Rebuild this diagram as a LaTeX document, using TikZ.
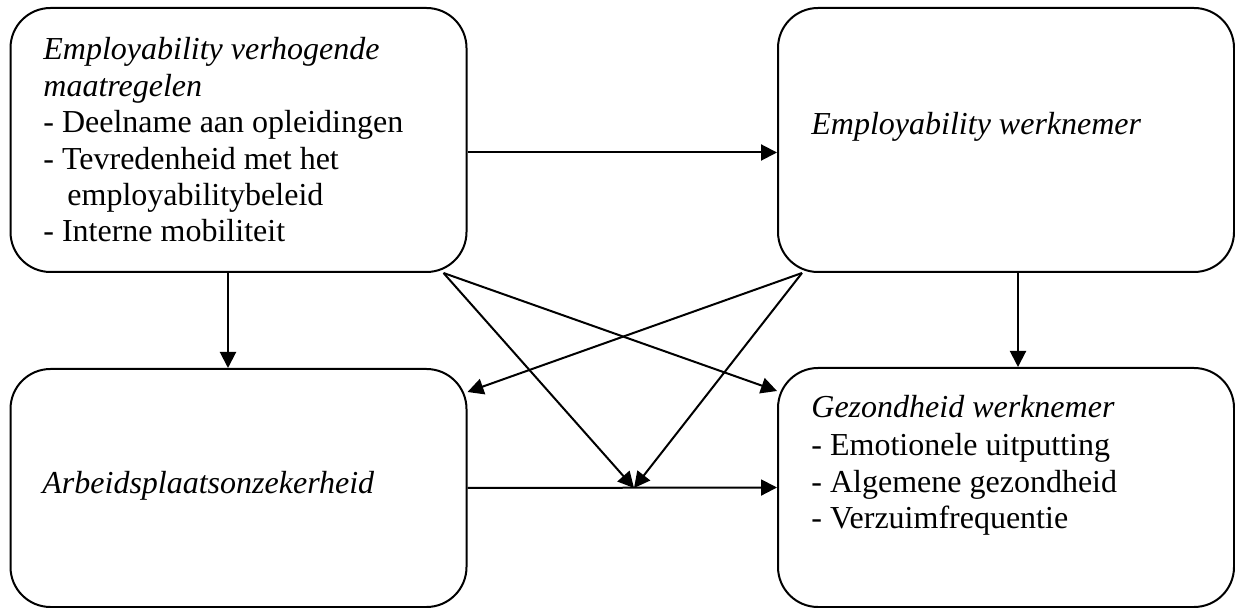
\documentclass[tikz,border=0pt]{standalone}
\usepackage{fontspec}
\setmainfont{Liberation Serif}
\usetikzlibrary{arrows.meta}
\begin{document}
\begin{tikzpicture}[x=0.5pt,y=-0.5pt,
  box/.style={draw,line width=1pt,rounded corners=20pt,minimum width=228pt,inner sep=0pt},
  txt/.style={anchor=base west,inner sep=0pt,font=\fontsize{16pt}{18pt}\selectfont},
  arr/.style={line width=1pt,-{Triangle[length=8pt,width=8pt]}}]
\useasboundingbox (0,0) rectangle (1235,608);
% boxes
\node[box,minimum height=132pt] (tl) at (238.5,140) {};
\node[box,minimum height=132pt] (tr) at (1006,140) {};
\node[box,minimum height=119pt] (bl) at (238.5,488) {};
\node[box,minimum height=119.5pt] (br) at (1006,487.5) {};
% texts
\node[txt] (t1) at (43,60) {\itshape Employability verhogende};
\node[txt] (t2) at (43,96.5) {\itshape maatregelen};
\node[txt] (t3) at (43,133) {- Deelname aan opleidingen};
\node[txt] (t4) at (43,169.5) {- Tevredenheid met het};
\node[txt] (t5) at (67,205.5) {employabilitybeleid};
\node[txt] (t6) at (43,242) {- Interne mobiliteit};
\node[txt] (r1) at (811,135) {\itshape Employability werknemer};
\node[txt] (b1) at (42,493) {\itshape Arbeidsplaatsonzekerheid};
\node[txt] (g1) at (811,418) {\itshape Gezondheid werknemer};
\node[txt] (g2) at (811,455) {- Emotionele uitputting};
\node[txt] (g3) at (811,492) {- Algemene gezondheid};
\node[txt] (g4) at (811,528) {- Verzuimfrequentie};
% connectors
\coordinate (m) at (634,488);
\draw[arr] ([yshift=-6.25pt]tl.east) -- ([yshift=-6.25pt]tr.west);
\draw[arr] ([xshift=-5.25pt]tl.south) -- ([xshift=-5.25pt]bl.north);
\draw[arr] ([xshift=6pt]tr.south) -- ([xshift=6pt]br.north);
\draw[arr] (bl.east) -- (br.west);
\draw[arr] ([xshift=-12pt]tl.south east) -- ([yshift=-12pt]br.north west);
\draw[arr] ([xshift=-12pt]tl.south east) -- (m);
\draw[arr] ([xshift=12.5pt]tr.south west) -- ([yshift=-12pt]bl.north east);
\draw[arr] ([xshift=12.5pt]tr.south west) -- (m);
\end{tikzpicture}
\end{document}
